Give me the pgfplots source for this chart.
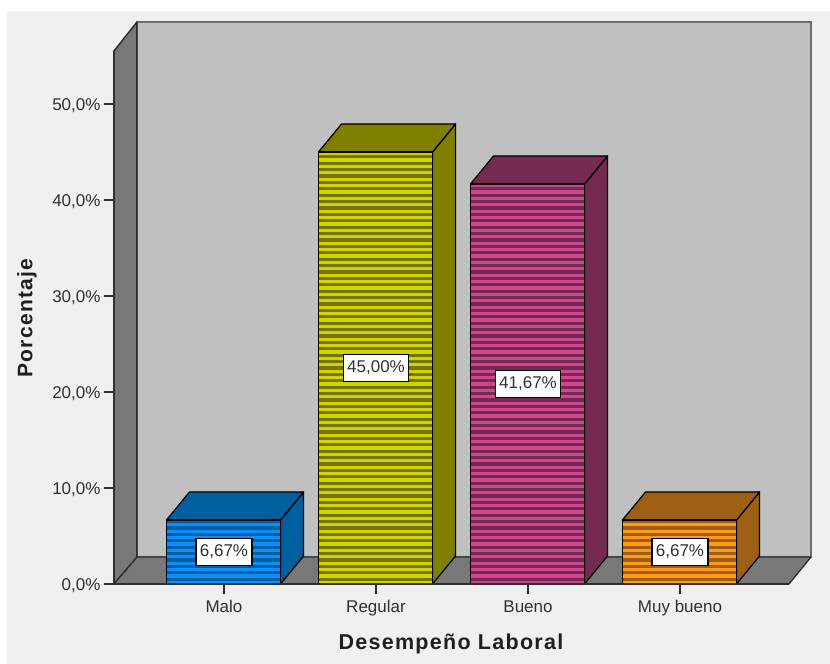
\documentclass[border=0pt]{standalone}
\usepackage{fontspec}
\setmainfont{Liberation Sans}
\usepackage{pgfplots}
\pgfplotsset{compat=1.18}
\newfontfamily\titlefont[LetterSpace=6]{Liberation Sans}

\definecolor{pagebg}{HTML}{F0F0F0}
\definecolor{wallback}{HTML}{C0C0C0}
\definecolor{wallside}{HTML}{787878}
\definecolor{wallline}{HTML}{2E2E2E}
\definecolor{labeltext}{HTML}{303030}
\definecolor{blueA}{HTML}{0A8FFF}\definecolor{blueB}{HTML}{00609F}\definecolor{blueC}{HTML}{00609F}
\definecolor{oliveA}{HTML}{D2D200}\definecolor{oliveB}{HTML}{808000}\definecolor{oliveC}{HTML}{757500}
\definecolor{pinkA}{HTML}{D0458F}\definecolor{pinkB}{HTML}{752A52}\definecolor{pinkC}{HTML}{752A52}
\definecolor{orangeA}{HTML}{FF9A1A}\definecolor{orangeB}{HTML}{9E5F12}\definecolor{orangeC}{HTML}{9E5F12}

% #1 category position, #2 value, #3 front, #4 top and side, #5 stripe
\newcommand{\boxbar}[5]{%
  \pgfmathsetmacro\xl{#1-0.378}%
  \pgfmathsetmacro\xr{#1+0.372}%
  \pgfmathsetmacro\xrb{#1+0.372+0.1513}%
  \pgfmathsetmacro\xlb{#1-0.378+0.1513}%
  \pgfmathsetmacro\yt{#2}%
  \pgfmathsetmacro\ytb{#2+2.92}%
  \addplot[fill=#4,draw=black,line width=1.3pt,line join=round] coordinates {(\xr,0)(\xrb,2.92)(\xrb,\ytb)(\xr,\yt)} --cycle;
  \addplot[fill=#4,draw=black,line width=1.3pt,line join=round] coordinates {(\xl,\yt)(\xlb,\ytb)(\xrb,\ytb)(\xr,\yt)} --cycle;
  \addplot[fill=#3,draw=none] coordinates {(\xl,0)(\xr,0)(\xr,\yt)(\xl,\yt)} --cycle;
  % horizontal stripes on the front face, 6.4pt apart
  \pgfmathtruncatemacro\nst{#2*1.5}%
  \pgfplotsforeachungrouped \k in {0,...,\nst}{%
    \pgfmathsetmacro\ya{min(\k*0.66667+0.33333,#2)}%
    \pgfmathsetmacro\yb{min(\k*0.66667+0.66667,#2)}%
    \addplot[fill=#5,draw=none] coordinates {(\xl,\ya)(\xr,\ya)(\xr,\yb)(\xl,\yb)} --cycle;
  }%
  \addplot[draw=black,line width=1.3pt,line join=round] coordinates {(\xl,0)(\xr,0)(\xr,\yt)(\xl,\yt)} --cycle;
}

\begin{document}
\begin{tikzpicture}
% page area: one unit is one point, origin at category 0 on the baseline
\path[use as bounding box,fill=white] (-224pt,-80pt) rectangle (606pt,584pt);
\fill[pagebg] (-217pt,-80pt) rectangle (606pt,573pt);
\begin{axis}[
  at={(-110pt,0pt)},anchor=south west,
  x=152pt,y=9.6pt,
  xmin=-0.7237,xmax=3.7171,ymin=0,ymax=55.52,
  clip=false,axis on top,
  axis lines*=left,
  axis line style={wallline,line width=1.5pt},
  tick style={wallline,line width=1.3pt},
  tick align=outside,
  major tick length=10pt,
  xtick={0,1,2,3},
  xticklabels={Malo,Regular,Bueno,Muy bueno},
  ytick={0,10,20,30,40,50},
  yticklabels={{0,0\%},{10,0\%},{20,0\%},{30,0\%},{40,0\%},{50,0\%}},
  tick label style={font=\fontsize{17}{18}\selectfont,text=labeltext},
  xticklabel style={yshift=-3pt},
  yticklabel style={yshift=-1.5pt},
  x label style={at={(axis cs:1.493,-6.25)},anchor=center,font=\titlefont\fontsize{21.5}{24}\selectfont\bfseries,text=black!88},
  y label style={at={(axis cs:-1.296,27.7)},anchor=center,rotate=0,font=\titlefont\fontsize{21}{24}\selectfont\bfseries,text=black!88},
  xlabel={Desempeño Laboral},
  ylabel={Porcentaje},
  point meta=explicit symbolic,
]
% chamber: back wall, left wall and floor
\addplot[fill=wallback,draw=wallline!70,line width=1.4pt] coordinates {(-0.5724,58.54)(3.8618,58.54)(3.8618,2.81)(-0.5724,2.81)} --cycle;
\addplot[fill=wallside,draw=wallline,line width=1.5pt,line join=round] coordinates {(-0.7237,55.52)(-0.5724,58.54)(-0.5724,2.81)(-0.7237,0)} --cycle;
\addplot[fill=wallside,draw=wallline,line width=1.3pt,line join=round] coordinates {(-0.7237,0)(-0.5724,2.81)(3.8618,2.81)(3.7171,0)} --cycle;
% bars
\boxbar{0}{6.67}{blueA}{blueB}{blueC}
\boxbar{1}{45.00}{oliveA}{oliveB}{oliveC}
\boxbar{2}{41.67}{pinkA}{pinkB}{pinkC}
\boxbar{3}{6.67}{orangeA}{orangeB}{orangeC}
% value labels at half height of each bar
\addplot[draw=none,mark=none,
  nodes near coords,
  nodes near coords align={center},
  every node near coord/.append style={anchor=center,yshift=0pt,fill=white,draw=black,line width=1.3pt,
    inner xsep=4pt,inner ysep=0pt,minimum height=27pt,font=\fontsize{17}{18}\selectfont,text=labeltext}]
  coordinates {(0,3.335)[6,67\%] (1,22.5)[45,00\%] (2,20.835)[41,67\%] (3,3.335)[6,67\%]};
\end{axis}
\end{tikzpicture}
\end{document}
